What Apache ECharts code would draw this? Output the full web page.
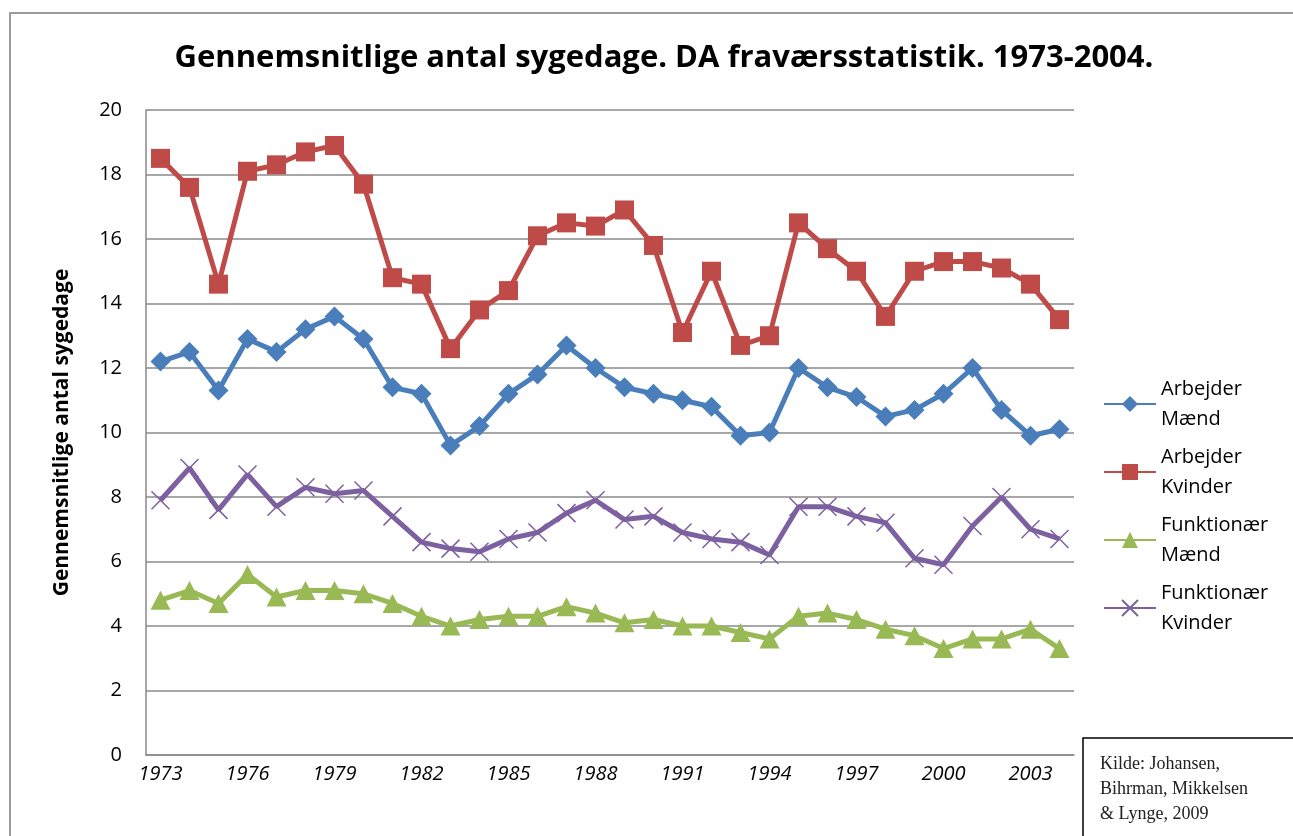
<!DOCTYPE html>
<html>
<head>
<meta charset="utf-8">
<script src="https://cdn.jsdelivr.net/npm/echarts@6/dist/echarts.min.js"></script>
<style>
  html, body { margin: 0; padding: 0; background: #fff; }
  #chart { width: 1293px; height: 836px; }
</style>
</head>
<body>
<div id="chart"></div>
<script>
const chart = echarts.init(document.getElementById('chart'));

// Years 1973 - 2004
const years = [];
for (let y = 1973; y <= 2004; y++) years.push(String(y));

const arbejderMaend = [12.2, 12.5, 11.3, 12.9, 12.5, 13.2, 13.6, 12.9, 11.4, 11.2, 9.6,
  10.2, 11.2, 11.8, 12.7, 12.0, 11.4, 11.2, 11.0, 10.8, 9.9, 10.0,
  12.0, 11.4, 11.1, 10.5, 10.7, 11.2, 12.0, 10.7, 9.9, 10.1];
const arbejderKvinder = [18.5, 17.6, 14.6, 18.1, 18.3, 18.7, 18.9, 17.7, 14.8, 14.6, 12.6,
  13.8, 14.4, 16.1, 16.5, 16.4, 16.9, 15.8, 13.1, 15.0, 12.7, 13.0,
  16.5, 15.7, 15.0, 13.6, 15.0, 15.3, 15.3, 15.1, 14.6, 13.5];
const funktionaerMaend = [4.8, 5.1, 4.7, 5.6, 4.9, 5.1, 5.1, 5.0, 4.7, 4.3, 4.0,
  4.2, 4.3, 4.3, 4.6, 4.4, 4.1, 4.2, 4.0, 4.0, 3.8, 3.6,
  4.3, 4.4, 4.2, 3.9, 3.7, 3.3, 3.6, 3.6, 3.9, 3.3];
const funktionaerKvinder = [7.9, 8.9, 7.6, 8.7, 7.7, 8.3, 8.1, 8.2, 7.4, 6.6, 6.4,
  6.3, 6.7, 6.9, 7.5, 7.9, 7.3, 7.4, 6.9, 6.7, 6.6, 6.2,
  7.7, 7.7, 7.4, 7.2, 6.1, 5.9, 7.1, 8.0, 7.0, 6.7];

const seriesNames = ['Arbejder\nMænd', 'Arbejder\nKvinder', 'Funktionær\nMænd', 'Funktionær\nKvinder'];
const colors = ['#4A7EBB', '#BE4B48', '#98B954', '#7D60A0'];

const font = '"Open Sans", sans-serif';
const crossPath = 'path://M0,0L10,10M10,0L0,10';

function lineSeries(name, data, color, symbol, size, extra) {
  return Object.assign({
    name: name,
    type: 'line',
    data: data,
    symbol: symbol,
    symbolSize: size,
    showAllSymbol: true,
    color: color,
    lineStyle: { width: 5, color: color },
    itemStyle: { color: color },
    emphasis: { disabled: true },
    animation: false
  }, extra || {});
}

chart.setOption({
  animation: false,
  title: {
    text: 'Gennemsnitlige antal sygedage. DA fraværsstatistik. 1973-2004.',
    left: 659,
    top: 38,
    textAlign: 'center',
    textStyle: { fontFamily: font, fontWeight: 'bold', fontSize: 31, color: '#000' }
  },
  grid: { left: 146, right: 219, top: 110, bottom: 81 },
  xAxis: {
    type: 'category',
    data: years,
    boundaryGap: true,
    axisLine: { lineStyle: { color: '#8a8a8a', width: 1.5 } },
    axisTick: { show: false },
    axisLabel: {
      interval: 2,
      margin: 9,
      fontFamily: font,
      fontStyle: 'italic',
      fontSize: 20,
      color: '#000'
    }
  },
  yAxis: {
    type: 'value',
    min: 0,
    max: 20,
    interval: 2,
    name: 'Gennemsnitlige antal sygedage',
    nameLocation: 'middle',
    nameGap: 73,
    nameTextStyle: { fontFamily: font, fontWeight: 'bold', fontSize: 21, color: '#000' },
    axisLine: { show: true, lineStyle: { color: '#8a8a8a', width: 1.5 } },
    axisTick: { show: false },
    splitLine: { lineStyle: { color: '#8a8a8a', width: 1.5 } },
    axisLabel: { margin: 24, fontFamily: font, fontSize: 20, color: '#000' }
  },
  legend: {
    orient: 'vertical',
    left: 1098,
    top: 354,
    itemWidth: 52,
    itemHeight: 20,
    itemGap: -22,
    selectedMode: false,
    textStyle: {
      fontFamily: font,
      fontSize: 20,
      lineHeight: 30,
      color: '#000',
      padding: [30, 0, 0, 0]
    },
    data: seriesNames
  },
  series: [
    lineSeries(seriesNames[0], arbejderMaend, colors[0], 'diamond', 20),
    lineSeries(seriesNames[1], arbejderKvinder, colors[1], 'rect', 19),
    lineSeries(seriesNames[2], funktionaerMaend, colors[2], 'triangle', [20, 19]),
    lineSeries(seriesNames[3], funktionaerKvinder, colors[3], crossPath, 18, {
      itemStyle: { color: colors[3], borderColor: colors[3], borderWidth: 1.5 }
    })
  ],
  graphic: [
    {
      type: 'rect',
      z: -10,
      shape: { x: 10, y: 13, width: 1300, height: 840 },
      style: { fill: 'none', stroke: '#9a9a9a', lineWidth: 2 }
    },
    {
      type: 'rect',
      shape: { x: 1083, y: 738, width: 220, height: 110 },
      style: { fill: '#fff', stroke: '#000', lineWidth: 1.5 }
    },
    {
      type: 'text',
      left: 1100,
      top: 752,
      style: {
        text: 'Kilde: Johansen,\nBihrman, Mikkelsen\n& Lynge, 2009',
        fontFamily: '"Liberation Serif", serif',
        fontSize: 18,
        lineHeight: 25,
        fill: '#222'
      }
    }
  ]
});
</script>
</body>
</html>
